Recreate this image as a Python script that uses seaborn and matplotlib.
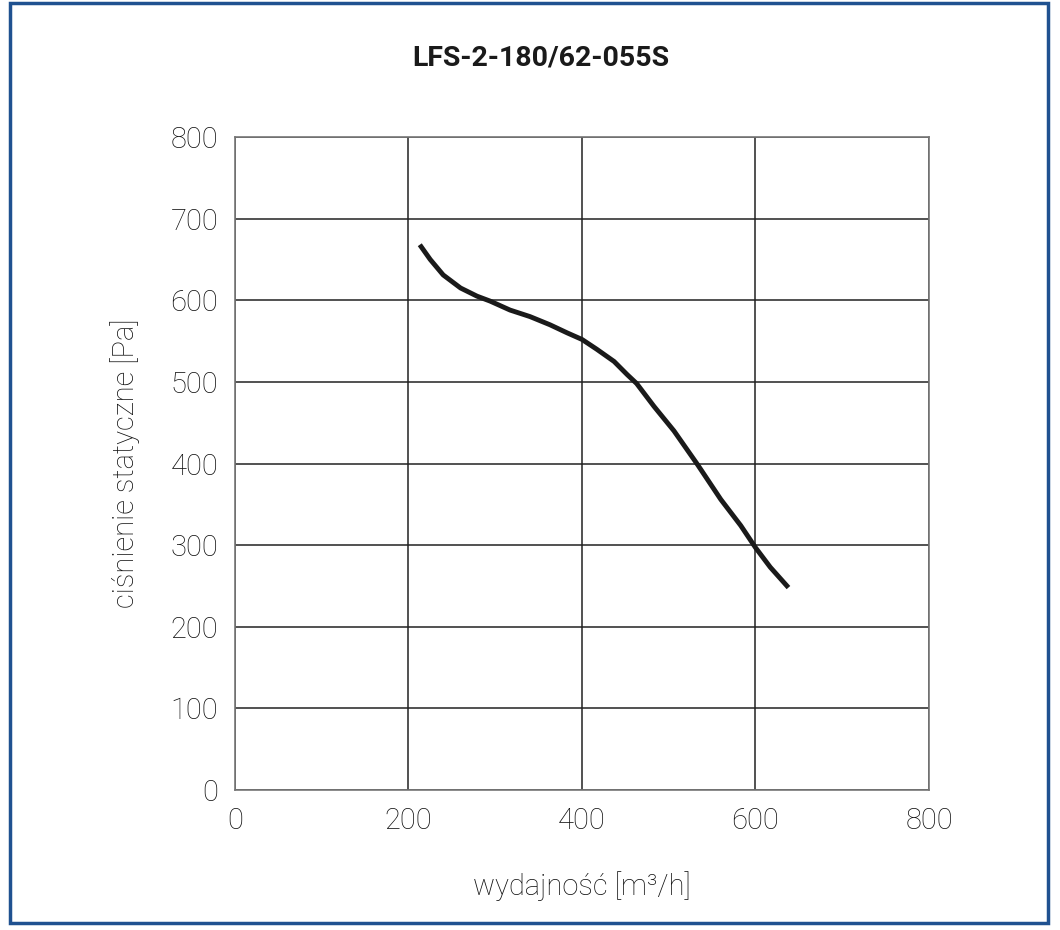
import numpy as np
import pandas as pd
import matplotlib
matplotlib.use("Agg")
import matplotlib.pyplot as plt
from matplotlib.patches import Rectangle
import seaborn as sns

# Fan curve
flow = [213, 225, 240, 260, 279, 294, 317, 340, 363, 383, 400, 417, 437,
        452, 463, 483, 506, 533, 560, 583, 600, 617, 638]
pressure = [668, 650, 631, 615, 605, 599, 588, 580, 570, 560, 552, 540, 525,
            509, 498, 470, 440, 399, 356, 324, 297, 273, 248]

title = "LFS-2-180/62-055S"
x_label = "wydajność [m³/h]"
y_label = "ciśnienie statyczne [Pa]"
ticks = [0, 200, 400, 600, 800]
yticks = [0, 100, 200, 300, 400, 500, 600, 700, 800]

df = pd.DataFrame({"flow": flow, "pressure": pressure})

sns.set_style("white")
plt.rcParams["font.family"] = ["Roboto", "DejaVu Sans"]

fig = plt.figure(figsize=(10.6, 9.3), dpi=100)
ax = fig.add_axes([0.2217, 0.1505, 0.6547, 0.7022])

sns.lineplot(data=df, x="flow", y="pressure", color="#1a1a1a", linewidth=3.5,
             ax=ax, sort=False, solid_joinstyle="round", solid_capstyle="butt")

ax.set_xlim(0, 800)
ax.set_ylim(0, 800)
ax.set_xticks(ticks)
ax.set_yticks(yticks)
ax.grid(True, color="#222222", linewidth=1.1)
ax.set_axisbelow(True)
for s in ax.spines.values():
    s.set_color("#777777")
    s.set_linewidth(1.2)
ax.tick_params(axis="both", length=0, labelsize=21, colors="#111111", pad=12)
for lbl in ax.get_xticklabels() + ax.get_yticklabels():
    lbl.set_fontweight("light")

ax.set_xlabel(x_label, fontsize=21, color="#111111", labelpad=26, fontweight="light")
ax.set_ylabel(y_label, fontsize=21, color="#111111", labelpad=22, fontweight="light")

fig.text(0.51, 0.938, title, ha="center", va="center", fontsize=20.5,
         fontweight="bold", color="#1a1a1a")

fig.patches.append(Rectangle((10 / 1060, 7 / 930), 1038 / 1060, 920 / 930,
                             transform=fig.transFigure, fill=False,
                             edgecolor="#1f5190", linewidth=2.5))

plt.savefig("out.png", dpi=100)
